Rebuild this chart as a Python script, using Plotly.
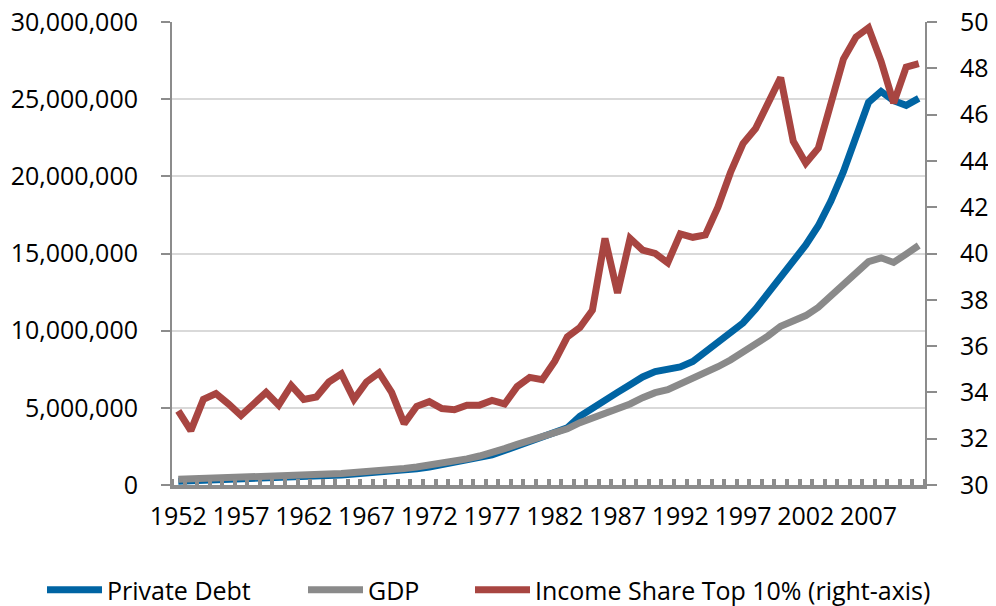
import plotly.graph_objects as go

years = list(range(1952, 2012))

private_debt = [250000, 275000, 285000, 320000, 345000, 370000, 385000, 420000, 445000, 470000,
                505000, 540000, 590000, 645000, 710000, 760000, 835000, 910000, 965000, 1050000,
                1165000, 1310000, 1430000, 1560000, 1740000, 1960000, 2240000, 2530000, 2770000, 3100000,
                3300000, 3700000, 4450000, 5000000, 5550000, 6000000, 6500000, 7000000, 7350000, 7450000,
                7650000, 8000000, 8600000, 9200000, 9800000, 10500000, 11400000, 12450000, 13550000, 14600000,
                15550000, 16800000, 18400000, 20300000, 22500000, 24800000, 25500000, 24900000, 24600000, 25050000]

gdp = [367700, 389700, 391100, 426200, 450100, 474900, 482000, 522500, 543300, 563300,
       605100, 638600, 685800, 743700, 815000, 861700, 942500, 1019900, 1075900, 1167800,
       1282400, 1428500, 1548800, 1688900, 1877600, 2086000, 2356600, 2632100, 2862500, 3211000,
       3345000, 3638100, 4040700, 4346700, 4590200, 4870200, 5252600, 5657700, 5979600, 6174000,
       6539300, 6878700, 7308800, 7664100, 8100200, 8608500, 9089200, 9660600, 10284800, 10621800,
       10977500, 11510700, 12274900, 13093700, 13855900, 14477600, 14718600, 14418700, 14964400, 15517900]

top10_share = [33.2, 32.35, 33.7, 33.95, 33.5, 33.0, 33.5, 34.0, 33.45, 34.3,
               33.7, 33.8, 34.45, 34.8, 33.7, 34.45, 34.85, 34.0, 32.65, 33.4,
               33.6, 33.3, 33.25, 33.45, 33.45, 33.65, 33.5, 34.25, 34.65, 34.55,
               35.35, 36.4, 36.8, 37.55, 40.65, 38.3, 40.65, 40.15, 40.0, 39.6,
               40.85, 40.7, 40.8, 42.0, 43.5, 44.75, 45.4, 46.55, 47.6, 44.85,
               43.9, 44.55, 46.55, 48.4, 49.35, 49.75, 48.3, 46.5, 48.05, 48.2]

label_years = list(range(1952, 2012, 5))

axis_grey = "#8c8c8c"
font = dict(family="Open Sans", size=25, color="#000000")

fig = go.Figure()
fig.add_trace(go.Scatter(x=years, y=private_debt, name="Private Debt", mode="lines",
                         legend="legend",
                         line=dict(color="#0064a3", width=7)))
fig.add_trace(go.Scatter(x=years, y=gdp, name="GDP", mode="lines",
                         legend="legend2",
                         line=dict(color="#8a8a8a", width=7)))
fig.add_trace(go.Scatter(x=years, y=top10_share, name="Income Share Top 10% (right-axis)",
                         mode="lines", yaxis="y2", legend="legend3",
                         line=dict(color="#a84541", width=7)))

# the page body adds an 8px margin, so the figure is drawn 8px in from the corner
# plot area on screen: x 172..925, y 22..485
def leg(xpx):
    return dict(orientation="h", x=(xpx - 172) / 753, xanchor="left",
                y=-(567 - 485) / 463, yanchor="top",
                font=font, itemwidth=55, bgcolor="rgba(0,0,0,0)")

fig.update_layout(
    width=988, height=598,
    margin=dict(l=164, r=71, t=14, b=121, autoexpand=False),
    paper_bgcolor="white", plot_bgcolor="white",
    font=font,
    showlegend=True,
    legend=leg(42), legend2=leg(303), legend3=leg(470),
    xaxis=dict(range=[1951.5, 2011.5], tickvals=label_years, ticks="",
               showgrid=False, zeroline=False, automargin=False,
               showline=True, linecolor=axis_grey, linewidth=4,
               ticklabelstandoff=6,
               minor=dict(ticks="inside", ticklen=6, tickwidth=4, tickcolor=axis_grey,
                          tick0=1951.5, dtick=1, showgrid=False)),
    yaxis=dict(range=[0, 30000000], dtick=5000000, tickformat=",",
               showgrid=True, gridcolor="#d9d9d9", gridwidth=1.5, zeroline=False,
               automargin=False, ticklabeloverflow="allow",
               showline=True, linecolor=axis_grey, linewidth=2,
               ticks="outside", ticklen=9, tickwidth=2, tickcolor=axis_grey,
               ticklabelstandoff=18),
    yaxis2=dict(range=[30, 50], dtick=2, overlaying="y", side="right",
                showgrid=False, zeroline=False, automargin=False,
                ticklabeloverflow="allow",
                showline=True, linecolor=axis_grey, linewidth=2,
                ticks="outside", ticklen=10, tickwidth=2, tickcolor=axis_grey,
                ticklabelstandoff=18),
)

fig.write_html("out.html")
